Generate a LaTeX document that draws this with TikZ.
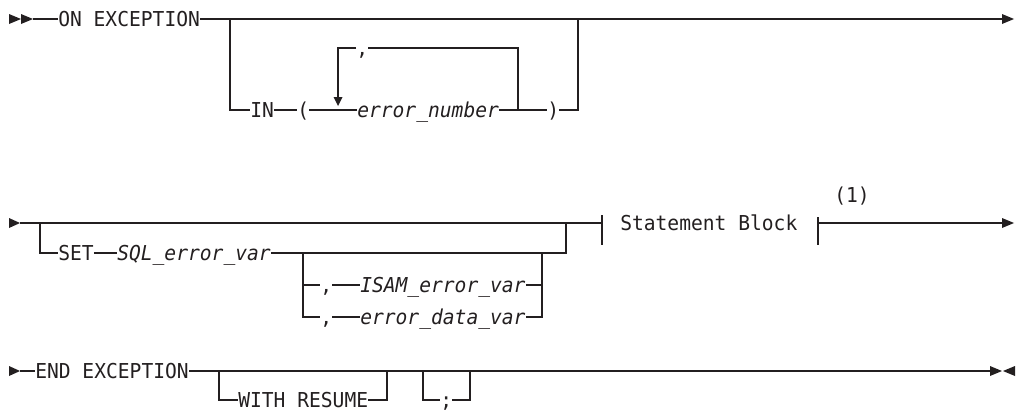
\documentclass[tikz,border=0pt]{standalone}
\usepackage{fontspec}
\setmonofont{DejaVu Sans Mono}[FakeStretch=0.955, ItalicFont={DejaVu Sans Mono Oblique}, ItalicFeatures={FakeStretch=0.955}]
\definecolor{ink}{HTML}{231F20}
\begin{document}
\begin{tikzpicture}[x=0.75pt,y=-0.75pt,
  rr/.style={draw=ink, line width=1.1pt},
  kw/.style={inner sep=0pt, anchor=west, text=ink,
    font=\ttfamily\fontsize{15.4}{18}\selectfont,
    text height=11.2pt, text depth=0pt},
  var/.style={kw, font=\ttfamily\itshape\fontsize{15.4}{18}\selectfont},
  tipfill/.style={fill=ink, draw=none}]
\useasboundingbox (0,0) rectangle (1016,411);

% ---------- Row 1 ----------
\fill[tipfill] (9,14) -- (21,19) -- (9,24) -- cycle;
\fill[tipfill] (21,14) -- (33,19) -- (21,24) -- cycle;
\coordinate (s1) at (33,19);
\node[kw] (onexc) at (58,19) {ON EXCEPTION};
\coordinate (j1a) at (230,19);
\coordinate (j1b) at (578,19);
\coordinate (e1) at (1002,19);
\coordinate (j1c) at (230,110);
\node[kw] (in) at (250,110) {IN};
\node[kw] (lp) at (297,110) {(};
\node[var] (errn) at (357,110) {error\_number};
\coordinate (lt) at (518,110);
\node[kw] (rp) at (547,110) {)};
\coordinate (j1d) at (578,110);
\coordinate (lr) at (518,48);
\node[kw] (c1) at (356,48) {,};
\coordinate (ll) at (338,48);
\coordinate (lh) at (338,97);
\draw[rr] (s1) -- (onexc.west);
\draw[rr] (onexc.east) -- (e1);
\draw[rr] (j1a) -- (j1c) -- (in.west);
\draw[rr] (in.east) -- (lp.west);
\draw[rr] (lp.east) -- (errn.west);
\draw[rr] (errn.east) -- (rp.west);
\draw[rr] (rp.east) -- (j1d) -- (j1b);
\draw[rr] (lt) -- (lr) -- (c1.east);
\draw[rr] (c1.west) -- (ll) -- (lh);
\fill[tipfill] (333.5,97) -- (342.5,97) -- (338,106) -- cycle;
\fill[tipfill] (1002,14) -- (1014,19) -- (1002,24) -- cycle;

% ---------- Row 2 ----------
\fill[tipfill] (9,218) -- (20,223) -- (9,228) -- cycle;
\coordinate (s2) at (20,223);
\coordinate (t1) at (602,223);
\coordinate (t1a) at (602,215);
\coordinate (t1b) at (602,245);
\draw[rr] (s2) -- (t1);
\draw[rr] (t1a) -- (t1b);
\coordinate (j2a) at (40,223);
\coordinate (j2b) at (40,253);
\node[kw] (set) at (58,253) {SET};
\node[var] (sqlv) at (117,253) {SQL\_error\_var};
\coordinate (j2c) at (566,253);
\coordinate (j2d) at (566,223);
\draw[rr] (j2a) -- (j2b) -- (set.west);
\draw[rr] (set.east) -- (sqlv.west);
\draw[rr] (sqlv.east) -- (j2c) -- (j2d);
\coordinate (j3a) at (303,253);
\coordinate (j3b) at (303,285);
\coordinate (j3c) at (303,317);
\node[kw] (c2) at (320,285) {,};
\node[var] (isam) at (360,285) {ISAM\_error\_var};
\node[kw] (c3) at (320,317) {,};
\node[var] (edv) at (360,317) {error\_data\_var};
\coordinate (j3d) at (542,285);
\coordinate (j3e) at (542,317);
\coordinate (j3f) at (542,253);
\draw[rr] (j3a) -- (j3c) -- (c3.west);
\draw[rr] (c3.east) -- (edv.west);
\draw[rr] (edv.east) -- (j3e) -- (j3f);
\draw[rr] (j3b) -- (c2.west);
\draw[rr] (c2.east) -- (isam.west);
\draw[rr] (isam.east) -- (j3d);
\node[kw] (sb) at (620,223) {Statement Block};
\coordinate (t2) at (818,223);
\coordinate (t2a) at (818,217);
\coordinate (t2b) at (818,245);
\draw[rr] (t2a) -- (t2b);
\node[kw, anchor=center] (fn) at (852,195) {(1)};
\coordinate (e2) at (1002,223);
\draw[rr] (t2) -- (e2);
\fill[tipfill] (1002,218) -- (1014,223) -- (1002,228) -- cycle;

% ---------- Row 3 ----------
\fill[tipfill] (9,366) -- (20,371) -- (9,376) -- cycle;
\coordinate (s3) at (20,371);
\node[kw] (endx) at (35,371) {END EXCEPTION};
\coordinate (e3) at (990,371);
\draw[rr] (s3) -- (endx.west);
\draw[rr] (endx.east) -- (e3);
\coordinate (j4a) at (219,371);
\coordinate (j4b) at (219,400);
\node[kw] (wr) at (238,400) {WITH RESUME};
\coordinate (j4c) at (387,400);
\coordinate (j4d) at (387,371);
\draw[rr] (j4a) -- (j4b) -- (wr.west);
\draw[rr] (wr.east) -- (j4c) -- (j4d);
\coordinate (j5a) at (423,371);
\coordinate (j5b) at (423,400);
\node[kw] (semi) at (440,400) {;};
\coordinate (j5c) at (470,400);
\coordinate (j5d) at (470,371);
\draw[rr] (j5a) -- (j5b) -- (semi.west);
\draw[rr] (semi.east) -- (j5c) -- (j5d);
\fill[tipfill] (990,366) -- (1002,371) -- (990,376) -- cycle;
\fill[tipfill] (1015,366) -- (1003,371) -- (1015,376) -- cycle;
\end{tikzpicture}
\end{document}
